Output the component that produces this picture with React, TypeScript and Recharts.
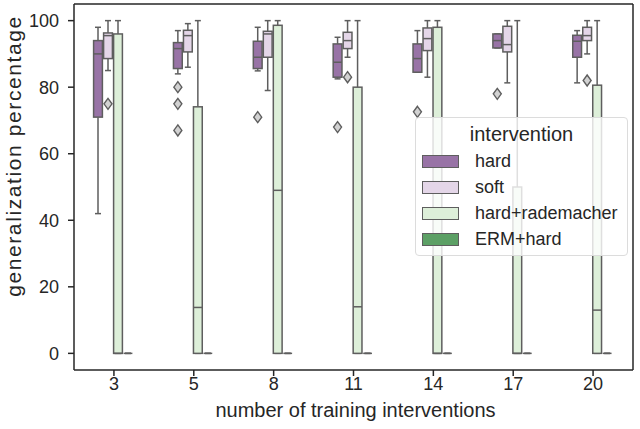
import React from 'react';
import { ComposedChart, Bar, XAxis, YAxis } from 'recharts';

// box stats per category: [whiskerLow, q1, median, q3, whiskerHigh]
const categories = ['3', '5', '8', '11', '14', '17', '20'];

const hardStats = [
  [42, 71, 90, 94, 98],
  [84, 85.6, 91.6, 93.4, 97],
  [84.9, 85.6, 89, 93.8, 98],
  [82.5, 83, 87.5, 93, 95],
  [84.5, 84.5, 88.6, 93, 97],
  [91.8, 91.8, 94, 96, 96],
  [81.3, 89, 93.8, 95.6, 97],
];
const hardOutliers = [[], [80, 75, 67], [71], [68], [72.6], [78], []];

const softStats = [
  [85, 88.6, 95.5, 96.3, 100],
  [86, 90.6, 95.5, 97.1, 99.1],
  [79, 89, 96, 96.8, 100],
  [89, 91.6, 94, 96.5, 100],
  [83, 91, 94.6, 97.8, 100],
  [81.3, 90.6, 92.8, 98.3, 100],
  [90, 94, 95.5, 98, 100],
];
const softOutliers = [[75], [], [], [83], [], [], [82]];

const rademacherStats = [
  [0, 0, 0, 96, 100],
  [0, 0, 13.8, 74.1, 100],
  [0, 0, 49, 98.6, 100],
  [0, 0, 14, 80, 100],
  [0, 0, 0, 98, 100],
  [0, 0, 0, 50, 100],
  [0, 0, 13, 80.6, 100],
];
const rademacherOutliers = [[], [], [], [], [], [], []];

const ermStats = [
  [0, 0, 0, 0, 0],
  [0, 0, 0, 0, 0],
  [0, 0, 0, 0, 0],
  [0, 0, 0, 0, 0],
  [0, 0, 0, 0, 0],
  [0, 0, 0, 0, 0],
  [0, 0, 0, 0, 0],
];
const ermOutliers = [[], [], [], [], [], [], []];

const yTicks = [0, 20, 40, 60, 80, 100];

const hues = [
  { key: 'hard', name: 'hard', color: '#9873a6', stats: hardStats, outliers: hardOutliers },
  { key: 'soft', name: 'soft', color: '#e4d6e8', stats: softStats, outliers: softOutliers },
  { key: 'rad', name: 'hard+rademacher', color: '#ddefd9', stats: rademacherStats, outliers: rademacherOutliers },
  { key: 'erm', name: 'ERM+hard', color: '#5ca065', stats: ermStats, outliers: ermOutliers },
];

const data = categories.map((name, i) => {
  const row: any = { name };
  hues.forEach((h) => {
    row[h.key] = h.stats[i];
    row[h.key + 'Out'] = h.outliers[i];
  });
  return row;
});

const FONT = '"Liberation Sans", Arial, Helvetica, sans-serif';
const LINE = '#5e5e5e';
const AXIS = '#262626';

const extent = (key: string) => (d: any) => {
  const all = [...d[key], ...d[key + 'Out']];
  return [Math.min(...all), Math.max(...all)];
};

const makeBox = (key: string, color: string) => (props: any) => {
  const { x, y, width, height, payload } = props;
  if (x == null || !payload) return <g />;
  const [lo, hi] = extent(key)(payload);
  const top = Math.min(y, y + height);
  const h = Math.abs(height);
  const py = (v: number) => (hi === lo ? top : top + ((hi - v) / (hi - lo)) * h);
  const [wl, q1, med, q3, wh] = payload[key];
  const outs: number[] = payload[key + 'Out'];
  const bx = x + 0.6;
  const bw = width - 1.2;
  const cx = x + width / 2;
  const capW = width * 0.3;
  return (
    <g>
      <line x1={cx} x2={cx} y1={py(q3)} y2={py(wh)} stroke={LINE} strokeWidth={1.5} />
      <line x1={cx} x2={cx} y1={py(q1)} y2={py(wl)} stroke={LINE} strokeWidth={1.5} />
      <line x1={cx - capW} x2={cx + capW} y1={py(wh)} y2={py(wh)} stroke={LINE} strokeWidth={1.5} />
      <line x1={cx - capW} x2={cx + capW} y1={py(wl)} y2={py(wl)} stroke={LINE} strokeWidth={1.5} />
      <rect x={bx} y={py(q3)} width={bw} height={py(q1) - py(q3)} fill={color} stroke={LINE} strokeWidth={1.5} />
      <line x1={bx} x2={bx + bw} y1={py(med)} y2={py(med)} stroke={LINE} strokeWidth={1.5} />
      {outs.map((o, j) => {
        const oy = py(o);
        return (
          <polygon
            key={j}
            points={`${cx},${oy - 5.5} ${cx + 4},${oy} ${cx},${oy + 5.5} ${cx - 4},${oy}`}
            fill="#d2d2d2"
            stroke={LINE}
            strokeWidth={1.4}
          />
        );
      })}
    </g>
  );
};

const LegendBox = () => (
  <div
    style={{
      boxSizing: 'border-box',
      position: 'absolute',
      left: 415,
      top: 117,
      width: 213,
      height: 139,
      background: 'rgba(255,255,255,0.8)',
      border: '1px solid #dcdcdc',
      borderRadius: 4,
      fontFamily: FONT,
      color: AXIS,
    }}
  >
    <div style={{ position: 'absolute', left: 0, right: 0, top: 4, textAlign: 'center', fontSize: 20, lineHeight: '24px' }}>
      intervention
    </div>
    {hues.map((h, i) => (
      <div key={h.key} style={{ position: 'absolute', left: 6, top: 33 + i * 26, height: 20, display: 'flex', alignItems: 'center' }}>
        <span style={{ display: 'inline-block', boxSizing: 'border-box', width: 37, height: 13, background: h.color, border: `1px solid ${LINE}` }} />
        <span style={{ marginLeft: 16, fontSize: 18, lineHeight: '20px' }}>{h.name}</span>
      </div>
    ))}
  </div>
);

const XLabel = (props: any) => {
  const vb = props.viewBox || {};
  return (
    <text x={vb.x + vb.width / 2 + 2} y={vb.y + 47} textAnchor="middle" fill={AXIS} fontSize={20} fontFamily={FONT}>
      number of training interventions
    </text>
  );
};

const YLabel = () => {
  const cx = 21;
  const cy = 156;
  return (
    <text
      x={cx}
      y={cy}
      transform={`rotate(-90, ${cx}, ${cy})`}
      textAnchor="middle"
      fill={AXIS}
      fontSize={21}
      letterSpacing={1.6}
      fontFamily={FONT}
    >
      generalization percentage
    </text>
  );
};

const App: React.FC = () => {
  return (
    <div style={{ position: 'absolute', left: 0, top: 0, width: 640, height: 429, background: '#fff' }}>
      <ComposedChart
        width={640}
        height={429}
        data={data}
        margin={{ top: 3, right: 6, left: 0, bottom: 0 }}
        barCategoryGap={19}
        barGap={0}
      >
        <XAxis
          dataKey="name"
          height={59}
          tickSize={6}
          tickMargin={1}
          tick={{ fill: AXIS, fontSize: 18, fontFamily: FONT }}
          tickLine={{ stroke: AXIS, strokeWidth: 1.5 }}
          axisLine={{ stroke: AXIS, strokeWidth: 1.5 }}
          label={<XLabel />}
        />
        <XAxis
          xAxisId="top"
          dataKey="name"
          orientation="top"
          height={1}
          tick={false}
          tickLine={false}
          axisLine={{ stroke: AXIS, strokeWidth: 1.5 }}
        />
        <YAxis
          width={74}
          domain={[-5, 105]}
          ticks={yTicks}
          allowDataOverflow
          tickSize={6}
          tickMargin={9}
          tick={{ fill: AXIS, fontSize: 18, fontFamily: FONT }}
          tickLine={{ stroke: AXIS, strokeWidth: 1.5 }}
          axisLine={{ stroke: AXIS, strokeWidth: 1.5 }}
          label={<YLabel />}
        />
        <YAxis
          yAxisId="right"
          orientation="right"
          width={1}
          domain={[0, 1]}
          tick={false}
          tickLine={false}
          axisLine={{ stroke: AXIS, strokeWidth: 1.5 }}
        />
        {hues.map((h) => (
          <Bar
            key={h.key}
            dataKey={extent(h.key)}
            name={h.name}
            fill={h.color}
            shape={makeBox(h.key, h.color)}
            isAnimationActive={false}
          />
        ))}
      </ComposedChart>
      <LegendBox />
    </div>
  );
};

export default App;
